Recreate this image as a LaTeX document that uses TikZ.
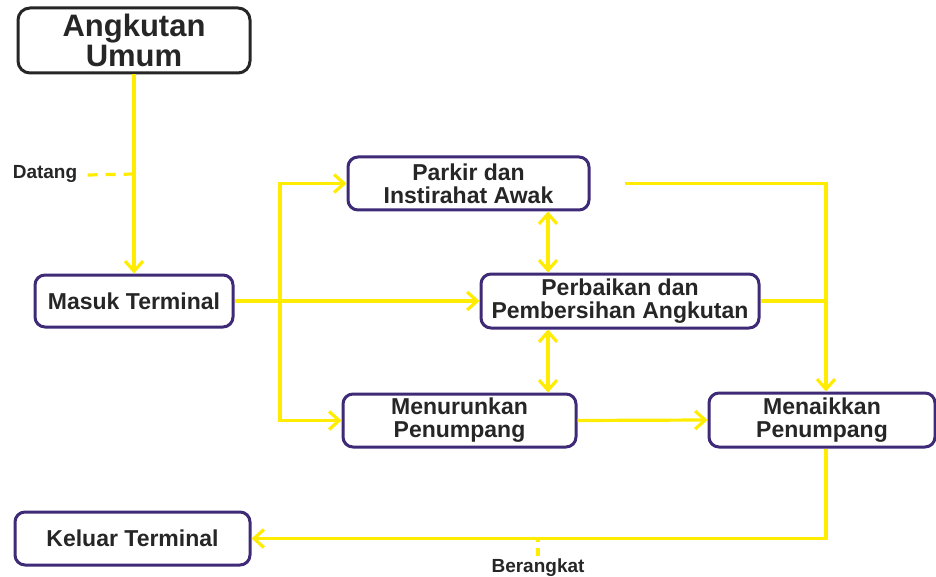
\documentclass[tikz,border=0pt]{standalone}
\usepackage{fontspec}
\setmainfont{Liberation Sans}
\usepackage{tikz}
\usetikzlibrary{calc}
\usetikzlibrary{positioning}
\usetikzlibrary{arrows.meta}
\definecolor{flowyellow}{RGB}{255,236,0}
\definecolor{boxpurple}{RGB}{62,42,118}
\tikzset{
  base_node/.style = {align=center, inner sep=0pt, text centered,
    font=\bfseries\fontsize{11.5}{11.5}\selectfont},
  box_node/.style = {base_node, rectangle, rounded corners=5pt, draw=boxpurple,
    line width=1.5pt, fill=white, text=black!85},
  start_node/.style = {base_node, rectangle, rounded corners=6pt, draw=black!85,
    line width=1.5pt, fill=white, text=black!85,
    font=\bfseries\fontsize{15.5}{12.5}\selectfont},
  label_node/.style = {base_node, text=black!85,
    font=\bfseries\fontsize{9.5}{9.5}\selectfont},
  flow_line/.style = {draw=flowyellow, line width=1.6pt,
    -{Straight Barb[length=5pt,width=9pt,line width=1.6pt]}},
  both_line/.style = {flow_line,
    {Straight Barb[length=5pt,width=9pt,line width=1.6pt]}-{Straight Barb[length=5pt,width=9pt,line width=1.6pt]}},
  plain_line/.style = {draw=flowyellow, line width=1.6pt},
  dash_line/.style = {draw=flowyellow, line width=1.6pt, dash pattern=on 5pt off 4pt}
}
\begin{document}
\begin{tikzpicture}[x=0.5pt,y=-0.5pt]
  \useasboundingbox (0,0) rectangle (936,577);
  \node [start_node, minimum width=116pt, minimum height=32.5pt] (umum) at (134,40.5) {Angkutan\\Umum};
  \node [box_node, minimum width=99pt, minimum height=26pt] (masuk) at (134,301) {Masuk Terminal};
  \node [box_node, minimum width=120.5pt, minimum height=26.5pt] (parkir) at (468.5,183.5) {Parkir dan\\Instirahat Awak};
  \node [box_node, minimum width=139pt, minimum height=27pt] (perbaikan) at (620,301) {Perbaikan dan\\Pembersihan Angkutan};
  \node [box_node, minimum width=116.5pt, minimum height=26.5pt] (turun) at (459.5,420.5) {Menurunkan\\Penumpang};
  \node [box_node, minimum width=113pt, minimum height=27pt] (naik) at (822,420) {Menaikkan\\Penumpang};
  \node [box_node, minimum width=117.5pt, minimum height=26.5pt] (keluar) at (132.5,538.5) {Keluar Terminal};
  \node [label_node] (datang) at (45,174) {Datang};
  \node [label_node] (berangkat) at (538,568) {Berangkat};

  \coordinate (split) at (280,301);
  \coordinate (mid) at (548,0);
  \coordinate (right) at (826,0);
  \coordinate (tonaik) at (625,183.5);

  \draw [flow_line] (umum.south) -- (masuk.north);
  \draw [dash_line] ($(datang.east)+(10,1)$) -- (datang.east -| umum.south);
  \draw [flow_line] (masuk.east) -- (perbaikan.west);
  \draw [flow_line] (split) |- (parkir.west);
  \draw [flow_line] (split) |- (turun.west);
  \draw [both_line] (parkir.south -| mid) -- (perbaikan.north -| mid);
  \draw [both_line] (perbaikan.south -| mid) -- (turun.north -| mid);
  \draw [flow_line] (tonaik) -| (naik.north -| right);
  \draw [plain_line] (perbaikan.east) -- (perbaikan.east -| right);
  \draw [flow_line] (turun.east) -- (naik.west);
  \draw [flow_line] (naik.south -| right) |- (keluar.east);
  \draw [dash_line, dash pattern=on 4pt off 3pt] ($(berangkat.north)+(0,-3)$) -- (berangkat.north |- keluar.east);
\end{tikzpicture}
\end{document}
